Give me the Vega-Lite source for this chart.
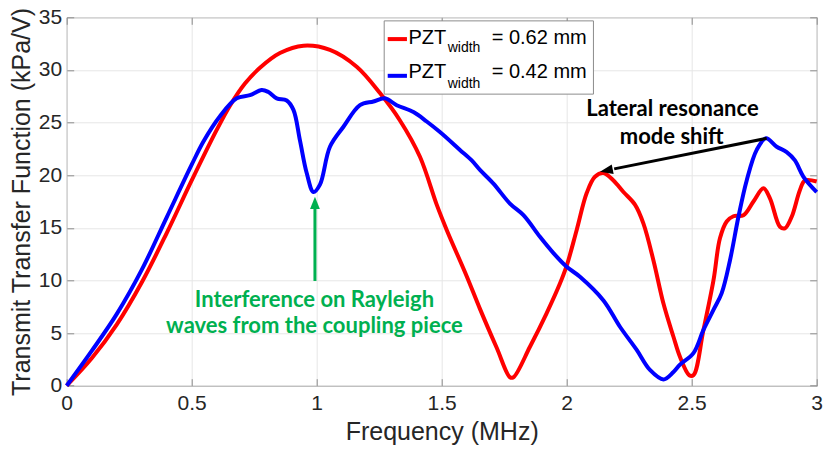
{
  "$schema": "https://vega.github.io/schema/vega-lite/v6.json",
  "width": 750,
  "height": 368.4,
  "autosize": {"type": "none"},
  "padding": {"left": 66.7, "top": 17.3, "right": 9.3, "bottom": 69.3},
  "background": "white",
  "config": {"view": {"stroke": "#8c8c8c", "strokeWidth": 1}, "font": "Arial, 'Liberation Sans', sans-serif"},
  "datasets": {
    "curves": [
      {"series": "0.62", "f": 0, "v": 0},
      {"series": "0.62", "f": 0.1, "v": 2.6},
      {"series": "0.62", "f": 0.2, "v": 5.8},
      {"series": "0.62", "f": 0.3, "v": 9.8},
      {"series": "0.62", "f": 0.4, "v": 14.5},
      {"series": "0.62", "f": 0.5, "v": 19.5},
      {"series": "0.62", "f": 0.6, "v": 24.3},
      {"series": "0.62", "f": 0.653, "v": 26.6},
      {"series": "0.62", "f": 0.713, "v": 28.7},
      {"series": "0.62", "f": 0.773, "v": 30.2},
      {"series": "0.62", "f": 0.853, "v": 31.6},
      {"series": "0.62", "f": 0.947, "v": 32.3},
      {"series": "0.62", "f": 1.053, "v": 31.9},
      {"series": "0.62", "f": 1.16, "v": 30.3},
      {"series": "0.62", "f": 1.253, "v": 27.8},
      {"series": "0.62", "f": 1.333, "v": 25.2},
      {"series": "0.62", "f": 1.413, "v": 21.75},
      {"series": "0.62", "f": 1.48, "v": 17.2},
      {"series": "0.62", "f": 1.52, "v": 14.8},
      {"series": "0.62", "f": 1.6, "v": 10.4},
      {"series": "0.62", "f": 1.653, "v": 7.3},
      {"series": "0.62", "f": 1.72, "v": 3.6},
      {"series": "0.62", "f": 1.773, "v": 0.8},
      {"series": "0.62", "f": 1.787, "v": 0.8},
      {"series": "0.62", "f": 1.853, "v": 3.7},
      {"series": "0.62", "f": 1.92, "v": 6.9},
      {"series": "0.62", "f": 1.973, "v": 9.7},
      {"series": "0.62", "f": 2.0, "v": 11.4},
      {"series": "0.62", "f": 2.04, "v": 14.8},
      {"series": "0.62", "f": 2.08, "v": 18.3},
      {"series": "0.62", "f": 2.113, "v": 19.85},
      {"series": "0.62", "f": 2.147, "v": 20.2},
      {"series": "0.62", "f": 2.187, "v": 19.5},
      {"series": "0.62", "f": 2.227, "v": 18.4},
      {"series": "0.62", "f": 2.273, "v": 17.2},
      {"series": "0.62", "f": 2.307, "v": 15.4},
      {"series": "0.62", "f": 2.347, "v": 11.9},
      {"series": "0.62", "f": 2.387, "v": 7.8},
      {"series": "0.62", "f": 2.427, "v": 4.65},
      {"series": "0.62", "f": 2.453, "v": 2.75},
      {"series": "0.62", "f": 2.49, "v": 1.0},
      {"series": "0.62", "f": 2.507, "v": 1.0},
      {"series": "0.62", "f": 2.547, "v": 5.3},
      {"series": "0.62", "f": 2.587, "v": 10.0},
      {"series": "0.62", "f": 2.613, "v": 14.0},
      {"series": "0.62", "f": 2.64, "v": 15.6},
      {"series": "0.62", "f": 2.667, "v": 16.1},
      {"series": "0.62", "f": 2.707, "v": 16.2},
      {"series": "0.62", "f": 2.747, "v": 17.5},
      {"series": "0.62", "f": 2.787, "v": 18.75},
      {"series": "0.62", "f": 2.813, "v": 17.8},
      {"series": "0.62", "f": 2.853, "v": 15.1},
      {"series": "0.62", "f": 2.873, "v": 14.95},
      {"series": "0.62", "f": 2.9, "v": 16.05},
      {"series": "0.62", "f": 2.933, "v": 18.6},
      {"series": "0.62", "f": 2.953, "v": 19.5},
      {"series": "0.62", "f": 3.0, "v": 19.4},
      {"series": "0.42", "f": 0, "v": 0},
      {"series": "0.42", "f": 0.1, "v": 3.3},
      {"series": "0.42", "f": 0.2, "v": 6.8},
      {"series": "0.42", "f": 0.3, "v": 11.0},
      {"series": "0.42", "f": 0.4, "v": 16.0},
      {"series": "0.42", "f": 0.5, "v": 21.0},
      {"series": "0.42", "f": 0.547, "v": 23.2},
      {"series": "0.42", "f": 0.613, "v": 25.6},
      {"series": "0.42", "f": 0.68, "v": 27.3},
      {"series": "0.42", "f": 0.733, "v": 27.6},
      {"series": "0.42", "f": 0.78, "v": 28.1},
      {"series": "0.42", "f": 0.807, "v": 27.9},
      {"series": "0.42", "f": 0.84, "v": 27.3},
      {"series": "0.42", "f": 0.88, "v": 27.1},
      {"series": "0.42", "f": 0.907, "v": 26.2},
      {"series": "0.42", "f": 0.933, "v": 23.3},
      {"series": "0.42", "f": 0.96, "v": 20.2},
      {"series": "0.42", "f": 0.987, "v": 18.4},
      {"series": "0.42", "f": 1.013, "v": 19.1},
      {"series": "0.42", "f": 1.053, "v": 22.7},
      {"series": "0.42", "f": 1.107, "v": 24.6},
      {"series": "0.42", "f": 1.173, "v": 26.65},
      {"series": "0.42", "f": 1.227, "v": 27.0},
      {"series": "0.42", "f": 1.273, "v": 27.3},
      {"series": "0.42", "f": 1.32, "v": 26.65},
      {"series": "0.42", "f": 1.387, "v": 26.0},
      {"series": "0.42", "f": 1.44, "v": 25.1},
      {"series": "0.42", "f": 1.493, "v": 24.1},
      {"series": "0.42", "f": 1.573, "v": 22.4},
      {"series": "0.42", "f": 1.62, "v": 21.4},
      {"series": "0.42", "f": 1.653, "v": 20.5},
      {"series": "0.42", "f": 1.707, "v": 19.2},
      {"series": "0.42", "f": 1.773, "v": 17.3},
      {"series": "0.42", "f": 1.827, "v": 16.2},
      {"series": "0.42", "f": 1.893, "v": 14.15},
      {"series": "0.42", "f": 1.947, "v": 12.6},
      {"series": "0.42", "f": 2.0, "v": 11.3},
      {"series": "0.42", "f": 2.053, "v": 10.35},
      {"series": "0.42", "f": 2.147, "v": 8.1},
      {"series": "0.42", "f": 2.213, "v": 5.6},
      {"series": "0.42", "f": 2.28, "v": 3.4},
      {"series": "0.42", "f": 2.333, "v": 1.5},
      {"series": "0.42", "f": 2.387, "v": 0.6},
      {"series": "0.42", "f": 2.427, "v": 1.3},
      {"series": "0.42", "f": 2.453, "v": 2.0},
      {"series": "0.42", "f": 2.507, "v": 3.1},
      {"series": "0.42", "f": 2.547, "v": 5.3},
      {"series": "0.42", "f": 2.587, "v": 7.2},
      {"series": "0.42", "f": 2.62, "v": 8.8},
      {"series": "0.42", "f": 2.653, "v": 11.9},
      {"series": "0.42", "f": 2.687, "v": 16.05},
      {"series": "0.42", "f": 2.72, "v": 19.5},
      {"series": "0.42", "f": 2.76, "v": 22.4},
      {"series": "0.42", "f": 2.797, "v": 23.5},
      {"series": "0.42", "f": 2.84, "v": 22.7},
      {"series": "0.42", "f": 2.88, "v": 22.2},
      {"series": "0.42", "f": 2.913, "v": 21.4},
      {"series": "0.42", "f": 2.947, "v": 19.85},
      {"series": "0.42", "f": 3.0, "v": 18.4}
    ],
    "legendBox": [{"x1": 1.27, "x2": 2.107, "y1": 27.7, "y2": 34.66}],
    "legendSym": [
      {"series": "0.62", "x1": 1.284, "x2": 1.361, "y": 32.93},
      {"series": "0.42", "x1": 1.284, "x2": 1.361, "y": 29.44}
    ],
    "legendBig": [
      {"x": 1.3667, "y": 32.42, "t": "PZT"},
      {"x": 1.70, "y": 32.42, "t": "= 0.62 mm"},
      {"x": 1.3667, "y": 29.2, "t": "PZT"},
      {"x": 1.70, "y": 29.2, "t": "= 0.42 mm"}
    ],
    "legendSub": [
      {"x": 1.524, "y": 31.66, "t": "width"},
      {"x": 1.524, "y": 28.3, "t": "width"}
    ],
    "greenText": [
      {"x": 0.991, "y": 7.5, "t": "Interference on Rayleigh"},
      {"x": 0.991, "y": 4.98, "t": "waves from the coupling piece"}
    ],
    "blackText": [
      {"x": 2.423, "y": 25.61, "t": "Lateral resonance"},
      {"x": 2.42, "y": 22.95, "t": "mode shift"}
    ],
    "greenShaft": [{"x1": 0.993, "y1": 9.95, "x2": 0.993, "y2": 17.0}],
    "greenHead": [{"x": 0.993, "y": 17.95}],
    "blackShaft": [{"x1": 2.8, "y1": 23.5, "x2": 2.19, "y2": 20.6}],
    "blackHead": [{"x": 2.133, "y": 20.32}]
  },
  "resolve": {"axis": {"x": "independent", "y": "independent"}},
  "layer": [
    {
      "data": {"name": "curves"},
      "transform": [{"filter": "datum.series === '0.62'"}],
      "mark": {"type": "line", "color": "#ff0000", "strokeWidth": 4, "interpolate": "catmull-rom"},
      "encoding": {
        "x": {"field": "f", "type": "quantitative", "scale": {"domain": [0, 3], "nice": false},
          "axis": {"orient": "bottom", "values": [0, 0.5, 1, 1.5, 2, 2.5, 3], "format": "~g", "grid": true, "gridColor": "#e6e6e6", "gridWidth": 1, "domain": false, "ticks": true, "tickSize": -7, "tickColor": "#8c8c8c", "labelFont": "Arial, 'Liberation Sans', sans-serif", "labelFontSize": 21, "labelColor": "#262626", "labelPadding": 14, "labelFlush": false, "labelOverlap": false, "title": "Frequency (MHz)", "titleFont": "Arial, 'Liberation Sans', sans-serif", "titleFontSize": 25, "titleFontWeight": "normal", "titleColor": "#262626", "titlePadding": 6}},
        "y": {"field": "v", "type": "quantitative", "scale": {"domain": [0, 35], "nice": false},
          "axis": {"orient": "left", "values": [0, 5, 10, 15, 20, 25, 30, 35], "grid": true, "gridColor": "#e6e6e6", "gridWidth": 1, "domain": false, "ticks": true, "tickSize": -7, "tickColor": "#8c8c8c", "labelFont": "Arial, 'Liberation Sans', sans-serif", "labelFontSize": 21, "labelColor": "#262626", "labelPadding": 12, "labelFlush": false, "labelOverlap": false, "title": "Transmit Transfer Function (kPa/V)", "titleFont": "Arial, 'Liberation Sans', sans-serif", "titleFontSize": 25, "titleFontWeight": "normal", "titleColor": "#262626", "titlePadding": 4}}
      }
    },
    {
      "data": {"name": "curves"},
      "transform": [{"filter": "datum.series === '0.42'"}],
      "mark": {"type": "line", "color": "#0000ff", "strokeWidth": 4, "interpolate": "catmull-rom"},
      "encoding": {
        "x": {"field": "f", "type": "quantitative", "scale": {"domain": [0, 3], "nice": false}, "axis": null},
        "y": {"field": "v", "type": "quantitative", "scale": {"domain": [0, 35], "nice": false}, "axis": null}
      }
    },
    {
      "data": {"name": "legendBox"},
      "mark": {"type": "rect", "fill": "white", "stroke": "#8c8c8c", "strokeWidth": 1},
      "encoding": {
        "x": {"field": "x1", "type": "quantitative", "scale": {"domain": [0, 3], "nice": false},
          "axis": {"orient": "top", "values": [0, 0.5, 1, 1.5, 2, 2.5, 3], "grid": false, "domain": false, "labels": false, "ticks": true, "tickSize": -7, "tickColor": "#8c8c8c", "title": null}},
        "x2": {"field": "x2"},
        "y": {"field": "y1", "type": "quantitative", "scale": {"domain": [0, 35], "nice": false},
          "axis": {"orient": "right", "values": [0, 5, 10, 15, 20, 25, 30, 35], "grid": false, "domain": false, "labels": false, "ticks": true, "tickSize": -7, "tickColor": "#8c8c8c", "title": null}},
        "y2": {"field": "y2"}
      }
    },
    {
      "data": {"name": "legendSym"},
      "mark": {"type": "rule", "strokeWidth": 4},
      "encoding": {
        "x": {"field": "x1", "type": "quantitative", "scale": {"domain": [0, 3], "nice": false}, "axis": null},
        "x2": {"field": "x2"},
        "y": {"field": "y", "type": "quantitative", "scale": {"domain": [0, 35], "nice": false}, "axis": null},
        "color": {"field": "series", "type": "nominal", "scale": {"domain": ["0.62", "0.42"], "range": ["#ff0000", "#0000ff"]}, "legend": null}
      }
    },
    {
      "data": {"name": "legendBig"},
      "mark": {"type": "text", "font": "Arial, 'Liberation Sans', sans-serif", "fontSize": 20, "align": "left", "baseline": "alphabetic", "color": "#000000"},
      "encoding": {
        "x": {"field": "x", "type": "quantitative", "scale": {"domain": [0, 3], "nice": false}, "axis": null},
        "y": {"field": "y", "type": "quantitative", "scale": {"domain": [0, 35], "nice": false}, "axis": null},
        "text": {"field": "t"}
      }
    },
    {
      "data": {"name": "legendSub"},
      "mark": {"type": "text", "font": "Arial, 'Liberation Sans', sans-serif", "fontSize": 14, "align": "left", "baseline": "alphabetic", "color": "#000000"},
      "encoding": {
        "x": {"field": "x", "type": "quantitative", "scale": {"domain": [0, 3], "nice": false}, "axis": null},
        "y": {"field": "y", "type": "quantitative", "scale": {"domain": [0, 35], "nice": false}, "axis": null},
        "text": {"field": "t"}
      }
    },
    {
      "data": {"name": "greenShaft"},
      "mark": {"type": "rule", "color": "#00b050", "strokeWidth": 3},
      "encoding": {
        "x": {"field": "x1", "type": "quantitative", "scale": {"domain": [0, 3], "nice": false}, "axis": null},
        "x2": {"field": "x2"},
        "y": {"field": "y1", "type": "quantitative", "scale": {"domain": [0, 35], "nice": false}, "axis": null},
        "y2": {"field": "y2"}
      }
    },
    {
      "data": {"name": "greenHead"},
      "mark": {"type": "point", "shape": "M0,0 L0.8,2 L-0.8,2 Z", "size": 150, "filled": true, "color": "#00b050", "opacity": 1, "angle": 0},
      "encoding": {
        "x": {"field": "x", "type": "quantitative", "scale": {"domain": [0, 3], "nice": false}, "axis": null},
        "y": {"field": "y", "type": "quantitative", "scale": {"domain": [0, 35], "nice": false}, "axis": null}
      }
    },
    {
      "data": {"name": "blackShaft"},
      "mark": {"type": "rule", "color": "#000000", "strokeWidth": 3},
      "encoding": {
        "x": {"field": "x1", "type": "quantitative", "scale": {"domain": [0, 3], "nice": false}, "axis": null},
        "x2": {"field": "x2"},
        "y": {"field": "y1", "type": "quantitative", "scale": {"domain": [0, 35], "nice": false}, "axis": null},
        "y2": {"field": "y2"}
      }
    },
    {
      "data": {"name": "blackHead"},
      "mark": {"type": "point", "shape": "M0,0 L0.75,2 L-0.75,2 Z", "size": 169, "filled": true, "color": "#000000", "opacity": 1, "angle": 258.7},
      "encoding": {
        "x": {"field": "x", "type": "quantitative", "scale": {"domain": [0, 3], "nice": false}, "axis": null},
        "y": {"field": "y", "type": "quantitative", "scale": {"domain": [0, 35], "nice": false}, "axis": null}
      }
    },
    {
      "data": {"name": "greenText"},
      "mark": {"type": "text", "font": "Lato", "fontWeight": "bold", "fontSize": 22, "align": "center", "baseline": "alphabetic", "color": "#00b050"},
      "encoding": {
        "x": {"field": "x", "type": "quantitative", "scale": {"domain": [0, 3], "nice": false}, "axis": null},
        "y": {"field": "y", "type": "quantitative", "scale": {"domain": [0, 35], "nice": false}, "axis": null},
        "text": {"field": "t"}
      }
    },
    {
      "data": {"name": "blackText"},
      "mark": {"type": "text", "font": "Lato", "fontWeight": "bold", "fontSize": 22, "align": "center", "baseline": "alphabetic", "color": "#000000"},
      "encoding": {
        "x": {"field": "x", "type": "quantitative", "scale": {"domain": [0, 3], "nice": false}, "axis": null},
        "y": {"field": "y", "type": "quantitative", "scale": {"domain": [0, 35], "nice": false}, "axis": null},
        "text": {"field": "t"}
      }
    }
  ]
}
